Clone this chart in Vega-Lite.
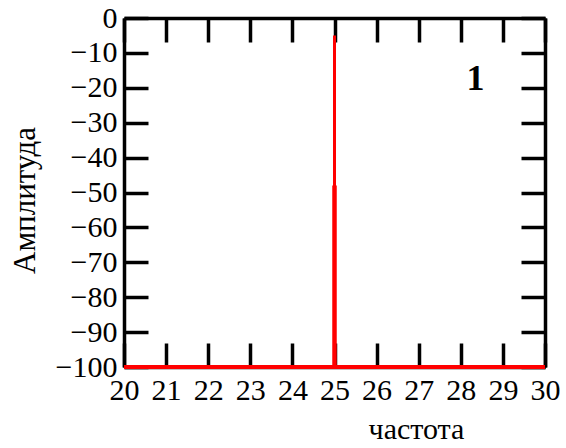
{
  "$schema": "https://vega.github.io/schema/vega-lite/v6.json",
  "width": 421,
  "height": 349,
  "autosize": "none",
  "padding": {"left": 124, "top": 18, "right": 21, "bottom": 81},
  "background": "white",
  "config": {
    "view": {"stroke": null},
    "font": "Liberation Serif",
    "axis": {
      "grid": false,
      "domainColor": "black",
      "domainWidth": 3.5,
      "tickColor": "black",
      "tickWidth": 3.5,
      "labelFont": "Liberation Serif",
      "labelFontSize": 30,
      "labelColor": "black",
      "titleFont": "Liberation Serif",
      "titleFontSize": 31,
      "titleFontWeight": "normal",
      "titleColor": "black"
    }
  },
  "layer": [
    {
      "data": {"values": [{"f0": 20, "f1": 30, "a": -100}]},
      "mark": {"type": "rule", "color": "#ff0000", "strokeWidth": 4},
      "encoding": {
        "x": {"field": "f0", "type": "quantitative", "scale": {"domain": [20, 30], "nice": false, "zero": false},
          "axis": {"orient": "bottom", "title": "частота", "values": [20,21,22,23,24,25,26,27,28,29,30], "tickSize": -24, "labelPadding": 32, "labelFlush": false, "labelOverlap": false, "titleX": 292, "titleY": 71, "titleBaseline": "alphabetic", "titleFontSize": 30}},
        "x2": {"field": "f1"},
        "y": {"field": "a", "type": "quantitative", "scale": {"domain": [-100, 0], "nice": false},
          "axis": {"orient": "left", "title": "Амплитуда", "values": [0,-10,-20,-30,-40,-50,-60,-70,-80,-90,-100], "tickSize": -24, "labelPadding": 31, "labelFlush": false, "labelOverlap": false, "titleX": -99, "titleY": 182, "titleBaseline": "middle"}}
      }
    },
    {
      "data": {"values": [{"f": 25, "top": -5, "bottom": -100, "mid": -48}]},
      "layer": [
        {
          "mark": {"type": "rule", "color": "#ff0000", "strokeWidth": 3},
          "encoding": {
            "x": {"field": "f", "type": "quantitative", "axis": null},
            "y": {"field": "top", "type": "quantitative", "axis": null},
            "y2": {"field": "bottom"}
          }
        },
        {
          "mark": {"type": "rule", "color": "#ff0000", "strokeWidth": 4.5},
          "encoding": {
            "x": {"field": "f", "type": "quantitative", "axis": null},
            "y": {"field": "mid", "type": "quantitative", "axis": null},
            "y2": {"field": "bottom"}
          }
        }
      ]
    },
    {
      "data": {"values": [{"f": 28.35, "a": -17.5, "label": "1"}]},
      "mark": {"type": "text", "font": "Liberation Serif", "fontWeight": "bold", "fontSize": 36, "color": "black"},
      "encoding": {
        "x": {"field": "f", "type": "quantitative", "axis": null},
        "y": {"field": "a", "type": "quantitative", "axis": null},
        "text": {"field": "label"}
      }
    },
    {
      "data": {"values": [{"f": 20, "a": -100}]},
      "mark": {"type": "point", "opacity": 0},
      "encoding": {
        "x": {"field": "f", "type": "quantitative",
          "axis": {"orient": "top", "title": null, "labels": false, "values": [20,21,22,23,24,25,26,27,28,29,30], "tickSize": -24}},
        "y": {"field": "a", "type": "quantitative",
          "axis": {"orient": "right", "title": null, "labels": false, "values": [0,-10,-20,-30,-40,-50,-60,-70,-80,-90,-100], "tickSize": -24}}
      }
    }
  ],
  "resolve": {"axis": {"x": "independent", "y": "independent"}}
}
